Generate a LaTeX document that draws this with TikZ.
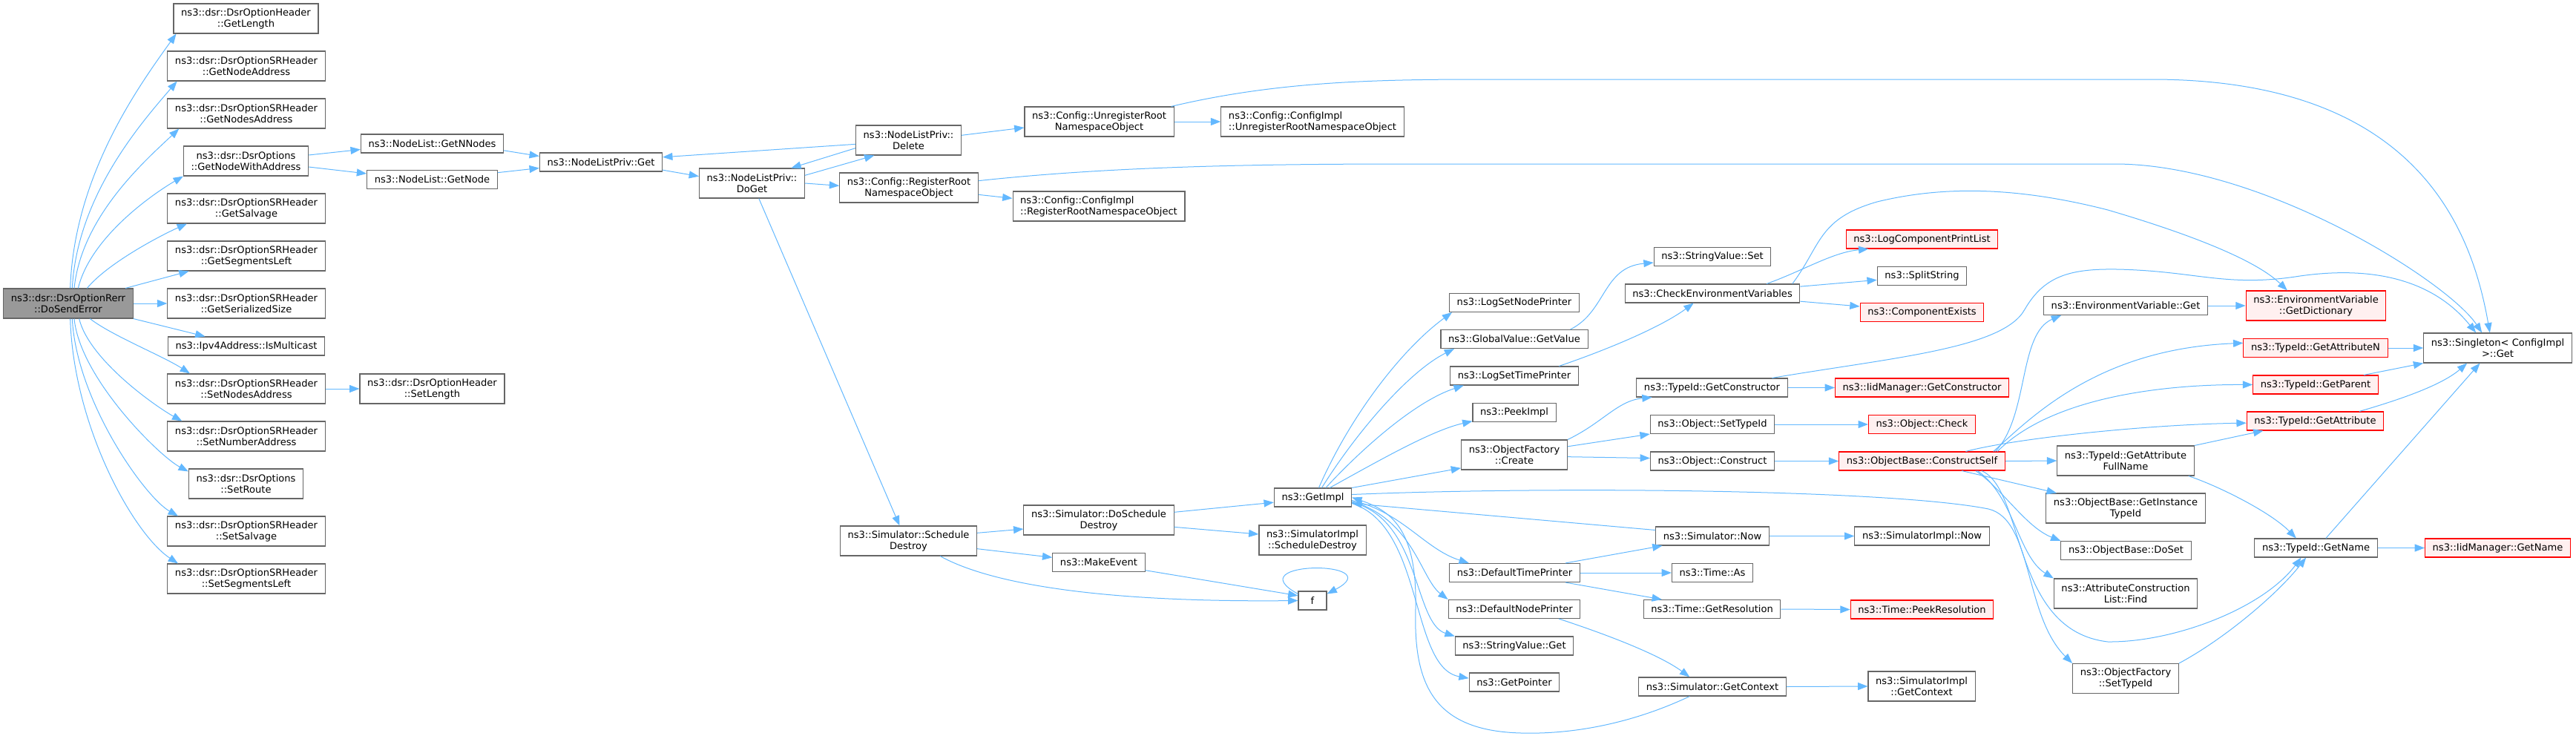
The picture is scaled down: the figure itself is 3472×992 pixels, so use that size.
\documentclass[tikz,border=0pt]{standalone}
\usepackage{fontspec}
\setmainfont{DejaVu Sans}
\usetikzlibrary{arrows.meta}
\definecolor{edgeblue}{HTML}{63B8FF}
\definecolor{nodegray}{HTML}{666666}
\definecolor{rootfill}{HTML}{999999}
\definecolor{redfill}{HTML}{FFF0F0}
\tikzset{
	fn/.style = {draw = nodegray, fill = white, rectangle, line width = 0.8pt, inner xsep = 7.6pt, inner ysep = 2pt, minimum height = 18.75pt, font = \fontsize{9.8}{11.25}\selectfont, align = center},
	two/.style = {minimum height = 30pt},
	root fn/.style = {fn, fill = rootfill},
	missing fn/.style = {fn, draw = red, fill = redfill},
	call/.style = {->, draw = edgeblue, line width = 0.75pt},
	>={Triangle[length=10pt,width=7.5pt]}
}

\begin{document}
\begin{tikzpicture}[x = 0.75pt, y = -0.75pt]
			\useasboundingbox (0,0) rectangle (3472,992);

			\node (root) [root fn, two] at (92,409) {ns3::dsr::DsrOptionRerr\\::DoSendError};

			\node (getlen) [fn, two] at (331.5,25) {ns3::dsr::DsrOptionHeader\\::GetLength};
			\node (getnodeaddr) [fn, two] at (332,89) {ns3::dsr::DsrOptionSRHeader\\::GetNodeAddress};
			\node (getnodesaddr) [fn, two] at (332,153) {ns3::dsr::DsrOptionSRHeader\\::GetNodesAddress};
			\node (getnodewith) [fn, two] at (331.5,217) {ns3::dsr::DsrOptions\\::GetNodeWithAddress};
			\node (getsalvage) [fn, two] at (332,281) {ns3::dsr::DsrOptionSRHeader\\::GetSalvage};
			\node (getsegleft) [fn, two] at (332,345) {ns3::dsr::DsrOptionSRHeader\\::GetSegmentsLeft};
			\node (getsersize) [fn, two] at (332,409) {ns3::dsr::DsrOptionSRHeader\\::GetSerializedSize};
			\node (ismulticast) [fn] at (332,466.5) {ns3::Ipv4Address::IsMulticast};
			\node (setnodesaddr) [fn, two] at (332,524) {ns3::dsr::DsrOptionSRHeader\\::SetNodesAddress};
			\node (setnumaddr) [fn, two] at (332,588) {ns3::dsr::DsrOptionSRHeader\\::SetNumberAddress};
			\node (setroute) [fn, two] at (331.5,652) {ns3::dsr::DsrOptions\\::SetRoute};
			\node (setsalvage) [fn, two] at (332,716) {ns3::dsr::DsrOptionSRHeader\\::SetSalvage};
			\node (setsegleft) [fn, two] at (332,780) {ns3::dsr::DsrOptionSRHeader\\::SetSegmentsLeft};

			\node (getnnodes) [fn] at (582.5,193.5) {ns3::NodeList::GetNNodes};
			\node (getnode) [fn] at (582.5,242) {ns3::NodeList::GetNode};
			\node (setlen) [fn, two] at (582.5,524) {ns3::dsr::DsrOptionHeader\\::SetLength};

			\node (nlpget) [fn] at (810,218.5) {ns3::NodeListPriv::Get};
			\node (doget) [fn, two] at (1013.5,247) {ns3::NodeListPriv::\\DoGet};
			\node (nlpdelete) [fn, two] at (1224.5,189) {ns3::NodeListPriv::\\Delete};
			\node (regroot) [fn, two] at (1225,253) {ns3::Config::RegisterRoot\\NamespaceObject};
			\node (schdes) [fn, two] at (1224.5,729) {ns3::Simulator::Schedule\\Destroy};
			\node (unregroot) [fn, two] at (1481.5,164) {ns3::Config::UnregisterRoot\\NamespaceObject};
			\node (ciunreg) [fn, two, align = left] at (1769,164) {ns3::Config::ConfigImpl\\::UnregisterRootNamespaceObject};
			\node (ciregroot) [fn, two, align = left] at (1481,278) {ns3::Config::ConfigImpl\\::RegisterRootNamespaceObject};
			\node (doschdes) [fn, two] at (1481,701) {ns3::Simulator::DoSchedule\\Destroy};
			\node (makeev) [fn] at (1481,758) {ns3::MakeEvent};

			\node (getimpl) [fn] at (1769.5,670.5) {ns3::GetImpl};
			\node (sisched) [fn, two] at (1769,728) {ns3::SimulatorImpl\\::ScheduleDestroy};
			\node (f) [fn, minimum width = 28.5pt] at (1769,809.5) {f};

			\node (lsnp) [fn] at (2041,408) {ns3::LogSetNodePrinter};
			\node (getvalue) [fn] at (2041,457) {ns3::GlobalValue::GetValue};
			\node (lstp) [fn] at (2041,506.5) {ns3::LogSetTimePrinter};
			\node (peekimpl) [fn] at (2041,556) {ns3::PeekImpl};
			\node (ofcreate) [fn, two] at (2041,613) {ns3::ObjectFactory\\::Create};
			\node (dtp) [fn] at (2041.5,772) {ns3::DefaultTimePrinter};
			\node (dnp) [fn] at (2041,821) {ns3::DefaultNodePrinter};
			\node (svget) [fn] at (2041,870.5) {ns3::StringValue::Get};
			\node (getptr) [fn] at (2041,919.5) {ns3::GetPointer};

			\node (svset) [fn] at (2308,346) {ns3::StringValue::Set};
			\node (checkenv) [fn] at (2308,395.5) {ns3::CheckEnvironmentVariables};
			\node (getctor) [fn] at (2307.5,522.5) {ns3::TypeId::GetConstructor};
			\node (osettid) [fn] at (2308,572) {ns3::Object::SetTypeId};
			\node (oconstruct) [fn] at (2308,621.5) {ns3::Object::Construct};
			\node (simnow) [fn] at (2308,722.5) {ns3::Simulator::Now};
			\node (timeas) [fn] at (2308,772) {ns3::Time::As};
			\node (getres) [fn] at (2307.5,821) {ns3::Time::GetResolution};
			\node (simgctx) [fn] at (2308,925.5) {ns3::Simulator::GetContext};

			\node (printlist) [missing fn] at (2590.5,322.5) {ns3::LogComponentPrintList};
			\node (splitstr) [fn] at (2590.5,372) {ns3::SplitString};
			\node (compexists) [missing fn] at (2590.5,421) {ns3::ComponentExists};
			\node (iidctor) [missing fn] at (2590.5,522.5) {ns3::IidManager::GetConstructor};
			\node (ocheck) [missing fn] at (2590.5,572) {ns3::Object::Check};
			\node (cself) [missing fn] at (2590.5,621.5) {ns3::ObjectBase::ConstructSelf};
			\node (sinow) [fn] at (2590.5,722.5) {ns3::SimulatorImpl::Now};
			\node (peekres) [missing fn] at (2590.5,821.5) {ns3::Time::PeekResolution};
			\node (sigctx) [fn, two] at (2590,925) {ns3::SimulatorImpl\\::GetContext};

			\node (envget) [fn] at (2865,412) {ns3::EnvironmentVariable::Get};
			\node (getafn) [fn, two] at (2865,621) {ns3::TypeId::GetAttribute\\FullName};
			\node (ginst) [fn, two] at (2865,685) {ns3::ObjectBase::GetInstance\\TypeId};
			\node (doset) [fn] at (2865.5,742) {ns3::ObjectBase::DoSet};
			\node (acfind) [fn, two] at (2865,800) {ns3::AttributeConstruction\\List::Find};
			\node (ofsettid) [fn, two] at (2865,914.5) {ns3::ObjectFactory\\::SetTypeId};

			\node (getdict) [missing fn, two] at (3121.5,412) {ns3::EnvironmentVariable\\::GetDictionary};
			\node (getattrn) [missing fn] at (3121,469) {ns3::TypeId::GetAttributeN};
			\node (getparent) [missing fn] at (3121,518.5) {ns3::TypeId::GetParent};
			\node (getattr) [missing fn] at (3120.5,567.5) {ns3::TypeId::GetAttribute};
			\node (getname) [fn] at (3121.5,738.5) {ns3::TypeId::GetName};

			\node (singleton) [fn, two] at (3366.5,469) {ns3::Singleton< ConfigImpl\\ >::Get};
			\node (iidname) [missing fn] at (3366.5,738.5) {ns3::IidManager::GetName};

			% calls of the root
			\draw [call] ([xshift=2pt]root.north) .. controls (100,235) and (188,115) .. ([xshift=3pt]getlen.south west);
			\draw [call] ([xshift=4pt]root.north) .. controls (104,264) and (190,166) .. ([xshift=10pt]getnodeaddr.south west);
			\draw [call] ([xshift=6pt]root.north) .. controls (110,292) and (195,217) .. ([xshift=12pt]getnodesaddr.south west);
			\draw [call] ([xshift=10pt]root.north) .. controls (122,320) and (205,262) .. (getnodewith.south west);
			\draw [call] ([xshift=19pt]root.north) .. controls (145,355) and (215,318) .. ([xshift=20pt]getsalvage.south west);
			\draw [call] ([xshift=-8pt]root.north east) -- ([xshift=22pt]getsegleft.south west);
			\draw [call] (root.east) -- (getsersize.west);
			\draw [call] (root.south east) -- ([xshift=38pt]ismulticast.north west);
			\draw [call] ([xshift=22pt]root.south) .. controls (150,452) and (220,480) .. ([xshift=23pt]setnodesaddr.north west);
			\draw [call] ([xshift=11pt]root.south) .. controls (120,485) and (210,548) .. ([xshift=15pt]setnumaddr.north west);
			\draw [call] ([xshift=6pt]root.south) .. controls (108,510) and (215,615) .. ([yshift=-3pt]setroute.north west);
			\draw [call] ([xshift=4pt]root.south) .. controls (103,540) and (195,670) .. ([xshift=11pt]setsalvage.north west);
			\draw [call] ([xshift=2pt]root.south) .. controls (99,575) and (180,720) .. ([xshift=11pt]setsegleft.north west);

			\draw [call] (setnodesaddr.east) -- (setlen.west);
			\draw [call] ([yshift=6pt]getnodewith.east) -- ([yshift=-6pt]getnnodes.west);
			\draw [call] ([yshift=-6pt]getnodewith.east) -- ([yshift=6pt]getnode.west);
			\draw [call] ([yshift=-7pt]getnnodes.east) -- ([yshift=6pt]nlpget.west);
			\draw [call] ([yshift=7pt]getnode.east) -- ([yshift=-6pt]nlpget.west);
			\draw [call] ([yshift=-8pt]nlpget.east) -- ([yshift=7pt]doget.west);
			\draw [call] ([yshift=-4pt]nlpdelete.west) -- ([yshift=5pt]nlpget.east);
			\draw [call] ([yshift=-8pt]nlpdelete.west) -- ([xshift=-14pt]doget.north east);
			\draw [call] ([yshift=8pt]doget.east) -- ([xshift=19pt]nlpdelete.south west);
			\draw [call] ([yshift=5pt]nlpdelete.east) -- ([yshift=-6pt]unregroot.west);
			\draw [call] (unregroot.east) -- (ciunreg.west);
			\draw [call] (doget.east) -- ([yshift=2pt]regroot.west);
			\draw [call] ([yshift=-7pt]regroot.east) -- ([yshift=8pt]ciregroot.west);
			\draw [call] ([xshift=7pt]doget.south) -- ([xshift=-9pt]schdes.north);
			\draw [call] ([xshift=-3pt]unregroot.north east) .. controls (1720,110) and (1850,107) .. (2000,107)
				-- (2900,107) .. controls (3250,107) and (3330,300) .. ([xshift=-8pt]singleton.north);
			\draw [call] ([yshift=7pt]regroot.east) .. controls (1500,224) and (1700,221) .. (1900,221)
				-- (2850,221) .. controls (3050,221) and (3300,380) .. ([xshift=-16pt]singleton.north);

			% scheduling
			\draw [call] ([yshift=8pt]schdes.east) -- ([yshift=-9pt]doschdes.west);
			\draw [call] ([yshift=-8pt]schdes.east) -- ([yshift=5pt]makeev.west);
			\draw [call] ([xshift=32pt]schdes.south) .. controls (1340,790) and (1500,812) .. (f.west);
			\draw [call] ([yshift=-8pt]makeev.east) -- ([yshift=5pt]f.west);
			\draw [call] ([yshift=-3pt]f.north west) .. controls (1665,755) and (1875,755) .. ([yshift=-3pt]f.north east);
			\draw [call] ([yshift=8pt]doschdes.east) -- ([yshift=-5pt]getimpl.west);
			\draw [call] ([yshift=-7pt]doschdes.east) -- ([yshift=6pt]sisched.west);

			% GetImpl
			\draw [call] ([xshift=6pt]getimpl.north) .. controls (1820,560) and (1890,470) .. ([xshift=3pt]lsnp.south west);
			\draw [call] ([xshift=9pt]getimpl.north) .. controls (1830,580) and (1900,500) .. ([xshift=14pt]getvalue.south west);
			\draw [call] ([xshift=13pt]getimpl.north) .. controls (1840,600) and (1910,540) .. ([xshift=14pt]lstp.south west);
			\draw [call] ([xshift=17pt]getimpl.north) .. controls (1860,620) and (1930,580) .. ([yshift=1pt]peekimpl.south west);
			\draw [call] (getimpl.north east) -- ([yshift=2pt]ofcreate.south west);
			\draw [call] ([yshift=-3pt]getimpl.east) .. controls (1890,690) and (1920,740) .. ([xshift=20pt]dtp.north west);
			\draw [call] ([yshift=-4pt]getimpl.east) .. controls (1905,700) and (1915,780) .. (dnp.north west);
			\draw [call] ([yshift=-5pt]getimpl.east) .. controls (1915,700) and (1905,840) .. (svget.north west);
			\draw [call] ([yshift=-6pt]getimpl.east) .. controls (1920,710) and (1900,900) .. ([yshift=4pt]getptr.west);
			\draw [call] ([yshift=3pt]getimpl.east) .. controls (2100,655) and (2550,660) .. (2680,686)
				.. controls (2740,700) and (2728,830) .. (ofsettid.north west);

			\draw [call] ([xshift=-18pt]getvalue.north east) .. controls (2165,420) and (2160,360) .. ([yshift=-6pt]svset.west);
			\draw [call] ([xshift=-20pt]lstp.north east) .. controls (2170,470) and (2240,440) .. ([xshift=-19pt]checkenv.south);
			\draw [call] ([xshift=-34pt]checkenv.north east) .. controls (2430,365) and (2470,340) .. ([xshift=23pt]printlist.south west);
			\draw [call] ([yshift=7pt]checkenv.east) -- ([yshift=-4pt]splitstr.west);
			\draw [call] ([yshift=-8pt]checkenv.east) -- ([yshift=6pt]compexists.west);
			\draw [call] ([xshift=-8pt]checkenv.north east) .. controls (2455,330) and (2450,295) .. (2530,272)
				.. controls (2620,250) and (2720,252) .. (2841,283)
				.. controls (2950,315) and (3040,350) .. ([xshift=-29pt]getdict.north);

			\draw [call] (ofcreate.north east) .. controls (2160,570) and (2180,540) .. ([xshift=16pt]getctor.south west);
			\draw [call] ([yshift=-7pt]ofcreate.north east) -- (osettid.south west);
			\draw [call] ([yshift=-2pt]ofcreate.east) -- ([yshift=3pt]oconstruct.west);
			\draw [call] (getctor.east) -- (iidctor.west);
			\draw [call] ([xshift=-16pt]getctor.north east) .. controls (2550,482) and (2700,470) .. (2729,417)
				.. controls (2755,372) and (2790,362) .. (2853,363)
				.. controls (2960,365) and (3000,388) .. (3100,372)
				.. controls (3220,355) and (3290,390) .. ([xshift=-22pt]singleton.north);
			\draw [call] (osettid.east) -- (ocheck.west);
			\draw [call] (oconstruct.east) -- (cself.west);

			% ConstructSelf
			\draw [call] ([xshift=-10pt]cself.north east) .. controls (2735,560) and (2720,450) .. ([xshift=18pt]envget.south west);
			\draw [call] ([xshift=-12pt]cself.north east) .. controls (2740,560) and (2830,470) .. ([yshift=5pt]getattrn.west);
			\draw [call] ([xshift=-8pt]cself.north east) .. controls (2760,540) and (2900,518) .. (getparent.west);
			\draw [call] ([xshift=-40pt]cself.north east) .. controls (2720,590) and (2900,572) .. ([yshift=-2pt]getattr.west);
			\draw [call] (cself.east) -- (getafn.west);
			\draw [call] ([xshift=-44pt]cself.south east) -- ([xshift=11pt]ginst.north west);
			\draw [call] ([xshift=-30pt]cself.south east) .. controls (2700,660) and (2730,710) .. (doset.north west);
			\draw [call] ([xshift=-28pt]cself.south east) .. controls (2715,670) and (2720,750) .. (acfind.north west);
			\draw [call] ([xshift=-24pt]cself.south east) .. controls (2730,660) and (2710,850) .. (2841,865)
				.. controls (2930,866) and (3050,820) .. ([xshift=-15pt]getname.south);

			\draw [call] (envget.east) -- (getdict.west);
			\draw [call] (getattrn.east) -- (singleton.west);
			\draw [call] ([xshift=-15pt]getparent.north east) -- (singleton.south west);
			\draw [call] ([xshift=-25pt]getattr.north east) .. controls (3230,540) and (3290,520) .. ([xshift=-31pt]singleton.south);
			\draw [call] (getafn.north east) -- ([xshift=17pt]getattr.south west);
			\draw [call] ([xshift=-6pt]getafn.south east) .. controls (2990,655) and (3060,690) .. ([xshift=-20pt]getname.north);
			\draw [call] (ofsettid.north east) .. controls (3000,860) and (3070,800) .. ([xshift=-10pt]getname.south);
			\draw [call] (getname.east) -- (iidname.west);
			\draw [call] ([xshift=10pt]getname.north) -- ([xshift=-18pt]singleton.south);

			% printers
			\draw [call] ([xshift=-15pt]dtp.north east) -- ([xshift=7pt]simnow.south west);
			\draw [call] (dtp.east) -- (timeas.west);
			\draw [call] ([xshift=-15pt]dtp.south east) -- ([xshift=19pt]getres.north west);
			\draw [call] (simnow.east) -- (sinow.west);
			\draw [call] ([yshift=6pt]simnow.west) -- ([yshift=-6pt]getimpl.east);
			\draw [call] (getres.east) -- (peekres.west);
			\draw [call] ([xshift=-22pt]dnp.south east) .. controls (2180,860) and (2240,885) .. ([xshift=-23pt]simgctx.north);
			\draw [call] (simgctx.east) -- (sigctx.west);
			\draw [call] ([xshift=-23pt]simgctx.south) .. controls (2200,975) and (2120,990) .. (2050,988)
				.. controls (1930,985) and (1905,920) .. (1908,820)
				.. controls (1910,720) and (1880,690) .. (getimpl.east);
		\end{tikzpicture}
\end{document}
